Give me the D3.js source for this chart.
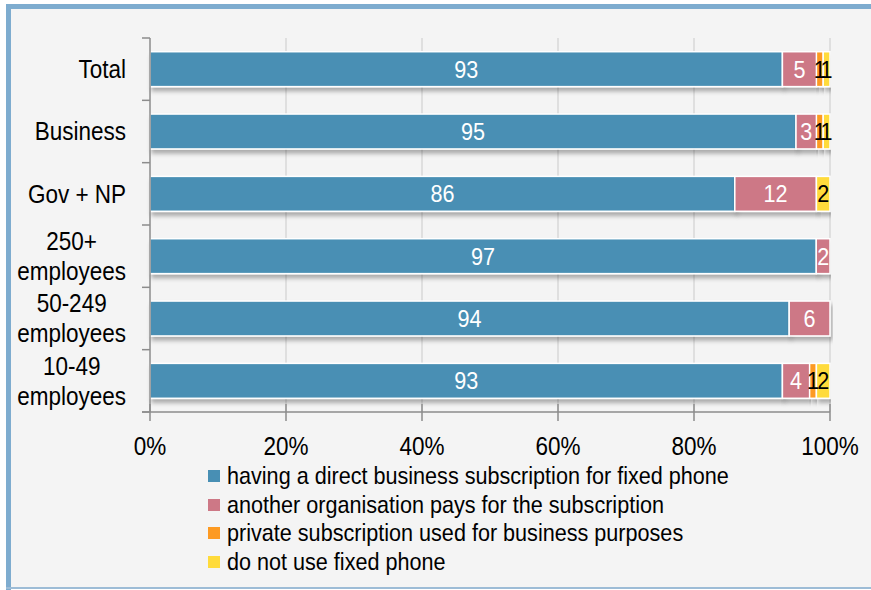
<!DOCTYPE html>
<html>
<head>
<meta charset="utf-8">
<script src="https://cdn.jsdelivr.net/npm/d3@7"></script>
<style>
  html, body { margin: 0; padding: 0; background: #ffffff; }
  svg { display: block; }
  text { font-family: "Liberation Sans", Arial, sans-serif; }
</style>
</head>
<body>
<svg id="chart" width="871" height="590"></svg>
<script>
// Categories (top to bottom), each label split into display lines
const categories = ["Total", "Business", "Gov + NP", "250+ employees", "50-249 employees", "10-49 employees"];
const categoryLines = [["Total"], ["Business"], ["Gov + NP"], ["250+", "employees"], ["50-249", "employees"], ["10-49", "employees"]];

// Series (share of respondents, %)
const seriesNames = [
  "having a direct business subscription for fixed phone",
  "another organisation pays for the subscription",
  "private subscription used for business purposes",
  "do not use fixed phone"
];
const directSubscription = [93, 95, 86, 97, 94, 93];
const otherOrgPays       = [5, 3, 12, 2, 6, 4];
const privateSubscription = [1, 1, 0, 0, 0, 1];
const noFixedPhone       = [1, 1, 2, 0, 0, 2];

const tickValues = [0, 0.2, 0.4, 0.6, 0.8, 1.0];
const tickLabels = ["0%", "20%", "40%", "60%", "80%", "100%"];

const colors = ["#488fb4", "#cd7886", "#fd9a22", "#ffdb3b"];
const labelColors = ["#ffffff", "#ffffff", "#000000", "#000000"];

// condensed look: text is squeezed horizontally
const SX = 0.9;

const svg = d3.select("#chart");
const W = 871, H = 590;

function addText(parent, x, y, str, size, fill, anchor) {
  return parent.append("text")
    .attr("transform", `translate(${x},${y}) scale(${SX},1)`)
    .attr("dy", "0.35em")
    .attr("font-size", size)
    .attr("fill", fill)
    .attr("text-anchor", anchor || "start")
    .text(str);
}

// panel background and frame
svg.append("rect").attr("x", 0).attr("y", 0).attr("width", W).attr("height", H).attr("fill", "#ffffff");
svg.append("rect").attr("x", 8).attr("y", 6).attr("width", W - 8).attr("height", H - 8).attr("fill", "#f4f4f4");
svg.append("rect").attr("x", 6).attr("y", 4).attr("width", W - 6).attr("height", 5).attr("fill", "#7eaccf");
svg.append("rect").attr("x", 6).attr("y", 4).attr("width", 5).attr("height", H - 4).attr("fill", "#7eaccf");
svg.append("rect").attr("x", 6).attr("y", H - 3).attr("width", W - 6).attr("height", 2).attr("fill", "#9dbcd6");

const defs = svg.append("defs");
const shadow = defs.append("filter").attr("id", "barShadow")
  .attr("x", "-5%").attr("y", "-30%").attr("width", "110%").attr("height", "180%");
shadow.append("feDropShadow").attr("dx", 2).attr("dy", 4).attr("stdDeviation", 2)
  .attr("flood-color", "#000").attr("flood-opacity", 0.3);

const plot = { left: 150, right: 830, top: 38, bottom: 412 };

const x = d3.scaleLinear().domain([0, 1]).range([plot.left, plot.right]);
const y = d3.scaleBand().domain(categories).range([plot.top, plot.bottom]).padding(0);
const barH = y.bandwidth() * 0.56;

// table for stacking
const rows = categories.map((c, i) => ({
  cat: c,
  s0: directSubscription[i],
  s1: otherOrgPays[i],
  s2: privateSubscription[i],
  s3: noFixedPhone[i]
}));
const keys = ["s0", "s1", "s2", "s3"];
const stacked = d3.stack().keys(keys).offset(d3.stackOffsetExpand)(rows);

// gridlines
svg.append("g").selectAll("line").data(tickValues.slice(1)).join("line")
  .attr("x1", d => x(d)).attr("x2", d => x(d))
  .attr("y1", plot.top).attr("y2", plot.bottom)
  .attr("stroke", "#d9d9d9").attr("stroke-width", 1.5);

// bars
const barsG = svg.append("g");
stacked.forEach((layer, li) => {
  const g = barsG.append("g");
  layer.forEach((d, i) => {
    const w = x(d[1]) - x(d[0]);
    if (w <= 0) return;
    g.append("rect")
      .attr("x", x(d[0])).attr("y", y(rows[i].cat) + (y.bandwidth() - barH) / 2)
      .attr("width", w).attr("height", barH)
      .attr("fill", colors[li]).attr("stroke", "#ffffff").attr("stroke-width", 1.5)
      .attr("filter", "url(#barShadow)");
  });
});

// value labels
const valG = svg.append("g");
stacked.forEach((layer, li) => {
  layer.forEach((d, i) => {
    const v = rows[i][keys[li]];
    if (!v) return;
    addText(valG, (x(d[0]) + x(d[1])) / 2, y(rows[i].cat) + y.bandwidth() / 2,
      v, 24, labelColors[li], "middle");
  });
});

// axes
const axisColor = "#8c8c8c";
svg.append("line").attr("x1", plot.left).attr("x2", plot.left).attr("y1", plot.top).attr("y2", plot.bottom)
  .attr("stroke", axisColor).attr("stroke-width", 1.5);
svg.append("line").attr("x1", plot.left - 8).attr("x2", plot.right).attr("y1", plot.bottom).attr("y2", plot.bottom)
  .attr("stroke", axisColor).attr("stroke-width", 1.5);

// category tick marks at band boundaries
const bounds = categories.map(c => y(c)).concat([plot.bottom]);
svg.append("g").selectAll("line").data(bounds).join("line")
  .attr("x1", plot.left - 8).attr("x2", plot.left)
  .attr("y1", d => d).attr("y2", d => d)
  .attr("stroke", axisColor).attr("stroke-width", 1.5);

// x tick marks and labels
const xAxis = svg.append("g");
xAxis.selectAll("line").data(tickValues).join("line")
  .attr("x1", d => x(d)).attr("x2", d => x(d))
  .attr("y1", plot.bottom - 8).attr("y2", plot.bottom + 9)
  .attr("stroke", axisColor).attr("stroke-width", 1.5);
tickValues.forEach((t, i) => addText(xAxis, x(t), 446, tickLabels[i], 25, "#000", "middle"));

// category labels: lines centred on each other, block right-aligned
const labelRight = 126, lineGap = 30;
const catG = svg.append("g");
categoryLines.forEach((lines, i) => {
  const cy = y(categories[i]) + y.bandwidth() / 2;
  const texts = lines.map((t, j) =>
    addText(catG, 0, cy + (j - (lines.length - 1) / 2) * lineGap, t, 25, "#000", "middle"));
  const maxW = d3.max(texts, t => t.node().getComputedTextLength()) * SX;
  texts.forEach((t, j) => t.attr("transform",
    `translate(${labelRight - maxW / 2},${cy + (j - (lines.length - 1) / 2) * lineGap}) scale(${SX},1)`));
});

// legend
const legend = svg.append("g");
const legendY = [476, 505, 533, 562];
seriesNames.forEach((name, i) => {
  legend.append("rect").attr("x", 208).attr("y", legendY[i] - 6).attr("width", 12).attr("height", 12)
    .attr("fill", colors[i]);
  addText(legend, 227, legendY[i], name, 24, "#000", "start");
});
</script>
</body>
</html>
